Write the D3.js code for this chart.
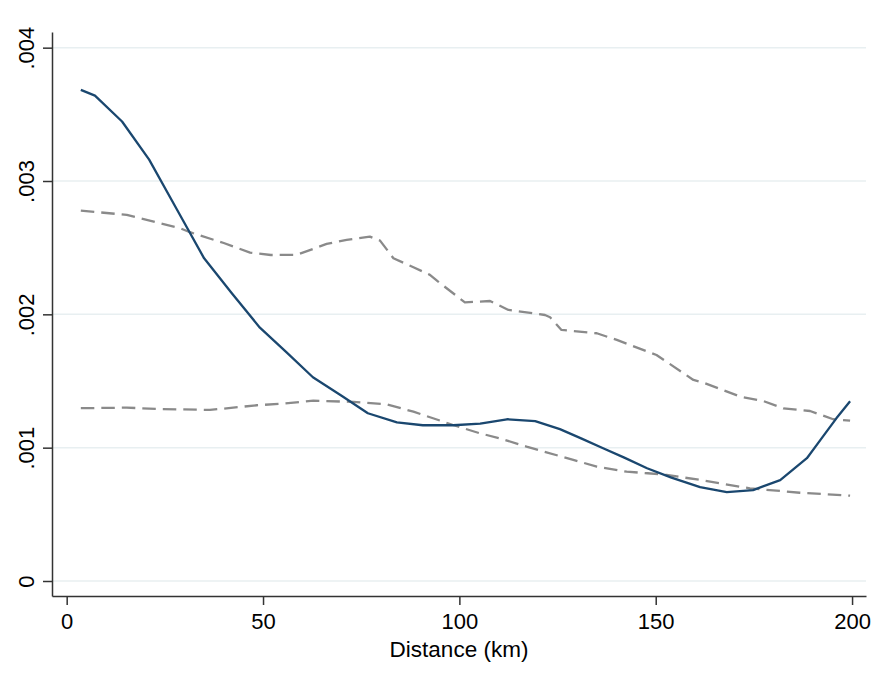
<!DOCTYPE html>
<html>
<head>
<meta charset="utf-8">
<script src="https://cdn.jsdelivr.net/npm/d3@7"></script>
<style>
  body { margin: 0; background: #fff; }
  svg { display: block; }
  .axis text { font-family: "Liberation Sans", Arial, Helvetica, sans-serif; font-size: 22px; fill: #000; }
  .axis .title { font-size: 22.5px; }
  .axis path, .axis line { stroke: #333; stroke-width: 1.5; }
</style>
</head>
<body>
<svg id="chart" width="888" height="686"></svg>
<script>
// solid line (estimate)
const solidDist = [3.6, 7.2, 14.1, 21, 28, 35, 42, 49.2, 56, 62.7, 70, 76.7, 84.1, 90.7, 98.4, 105.3, 112.1, 119.3, 125.6, 131, 136.6, 142, 147.8, 154, 161.3, 168.1, 174.8, 181.7, 188.5, 192, 196, 199.5]
const solidDens = [3.683, 3.64, 3.446, 3.16, 2.79, 2.42, 2.16, 1.90, 1.715, 1.528, 1.39, 1.258, 1.19, 1.168, 1.168, 1.18, 1.213, 1.199, 1.139, 1.07, 0.996, 0.925, 0.846, 0.775, 0.704, 0.667, 0.682, 0.757, 0.921, 1.06, 1.22, 1.348]

// upper dashed band
const upperDist = [3.6, 15.3, 23.8, 28.9, 31.4, 40, 46.7, 52, 58.6, 66.2, 71.3, 77.2, 79.8, 83.2, 88.3, 92.5, 94.6, 101.4, 107.8, 112.5, 121.8, 123.1, 126, 135, 140.1, 150.2, 159.6, 162.1, 171.5, 177.4, 182.5, 189.3, 195.2, 199.5]
const upperDens = [2.778, 2.746, 2.683, 2.646, 2.616, 2.535, 2.463, 2.445, 2.446, 2.528, 2.558, 2.583, 2.553, 2.421, 2.353, 2.296, 2.245, 2.09, 2.10, 2.033, 1.995, 1.978, 1.883, 1.858, 1.808, 1.695, 1.508, 1.488, 1.383, 1.35, 1.295, 1.275, 1.213, 1.203]

// lower dashed band
const lowerDist = [3.6, 15.3, 23.8, 36.5, 42.4, 48.4, 55, 62.8, 73, 81.5, 88.3, 98.4, 105.2, 110.3, 117.1, 129, 135, 142.6, 148, 152.8, 161.3, 174, 186.7, 199.5]
const lowerDens = [1.296, 1.30, 1.29, 1.283, 1.30, 1.318, 1.33, 1.353, 1.343, 1.325, 1.27, 1.17, 1.108, 1.07, 1.008, 0.908, 0.858, 0.82, 0.808, 0.795, 0.758, 0.695, 0.662, 0.64]

const xTicks = [0, 50, 100, 150, 200]
const yTicks = [0, 0.001, 0.002, 0.003, 0.004]
const yTickLabels = ['0', '.001', '.002', '.003', '.004']

const svg = d3.select('#chart')

const x = d3.scaleLinear()
    .domain([-3.74, 203.55])
    .range([52, 866])

const y = d3.scaleLinear()
    .domain([-0.0001125, 0.0041175])
    .range([596, 32])

/**
 * Horizontal gridlines at every y tick
 */
svg.append('g')
    .selectAll('line')
    .data(yTicks)
    .join('line')
    .attr('x1', x.range()[0])
    .attr('x2', x.range()[1])
    .attr('y1', d => y(d))
    .attr('y2', d => y(d))
    .attr('stroke', '#e8eff1')
    .attr('stroke-width', 1.5)

/**
 * Axes
 */
const yAxis = svg.append('g')
    .attr('class', 'axis')
    .attr('transform', `translate(${x.range()[0]},0)`)
    .call(d3.axisLeft(y)
        .tickValues(yTicks)
        .tickFormat((d, i) => yTickLabels[i])
        .tickSize(9)
        .tickSizeOuter(0))

yAxis.selectAll('text')
    .attr('x', null)
    .attr('dy', null)
    .attr('text-anchor', 'middle')
    .attr('transform', 'translate(-18.5,0) rotate(-90)')

const xAxis = svg.append('g')
    .attr('class', 'axis')
    .attr('transform', `translate(0,${y.range()[0]})`)
    .call(d3.axisBottom(x)
        .tickValues(xTicks)
        .tickFormat(d3.format('d'))
        .tickSize(9)
        .tickSizeOuter(0))

xAxis.selectAll('text')
    .attr('y', 33)
    .attr('dy', null)

xAxis.append('text')
    .attr('class', 'title')
    .attr('x', (x.range()[0] + x.range()[1]) / 2)
    .attr('y', 61)
    .attr('text-anchor', 'middle')
    .text('Distance (km)')

/**
 * Lines
 */
const line = d3.line()
    .x(d => x(d[0]))
    .y(d => y(d[1] / 1000))

const series = [
    { dist: upperDist, dens: upperDens, color: '#8a8a8a', dash: '13.5,7' },
    { dist: lowerDist, dens: lowerDens, color: '#8a8a8a', dash: '13.5,7' },
    { dist: solidDist, dens: solidDens, color: '#1a476f', dash: null },
]

svg.append('g')
    .selectAll('path')
    .data(series)
    .join('path')
    .attr('fill', 'none')
    .attr('stroke', d => d.color)
    .attr('stroke-width', 2.3)
    .attr('stroke-dasharray', d => d.dash)
    .attr('stroke-linejoin', 'round')
    .attr('d', d => line(d3.zip(d.dist, d.dens)))
</script>
</body>
</html>
